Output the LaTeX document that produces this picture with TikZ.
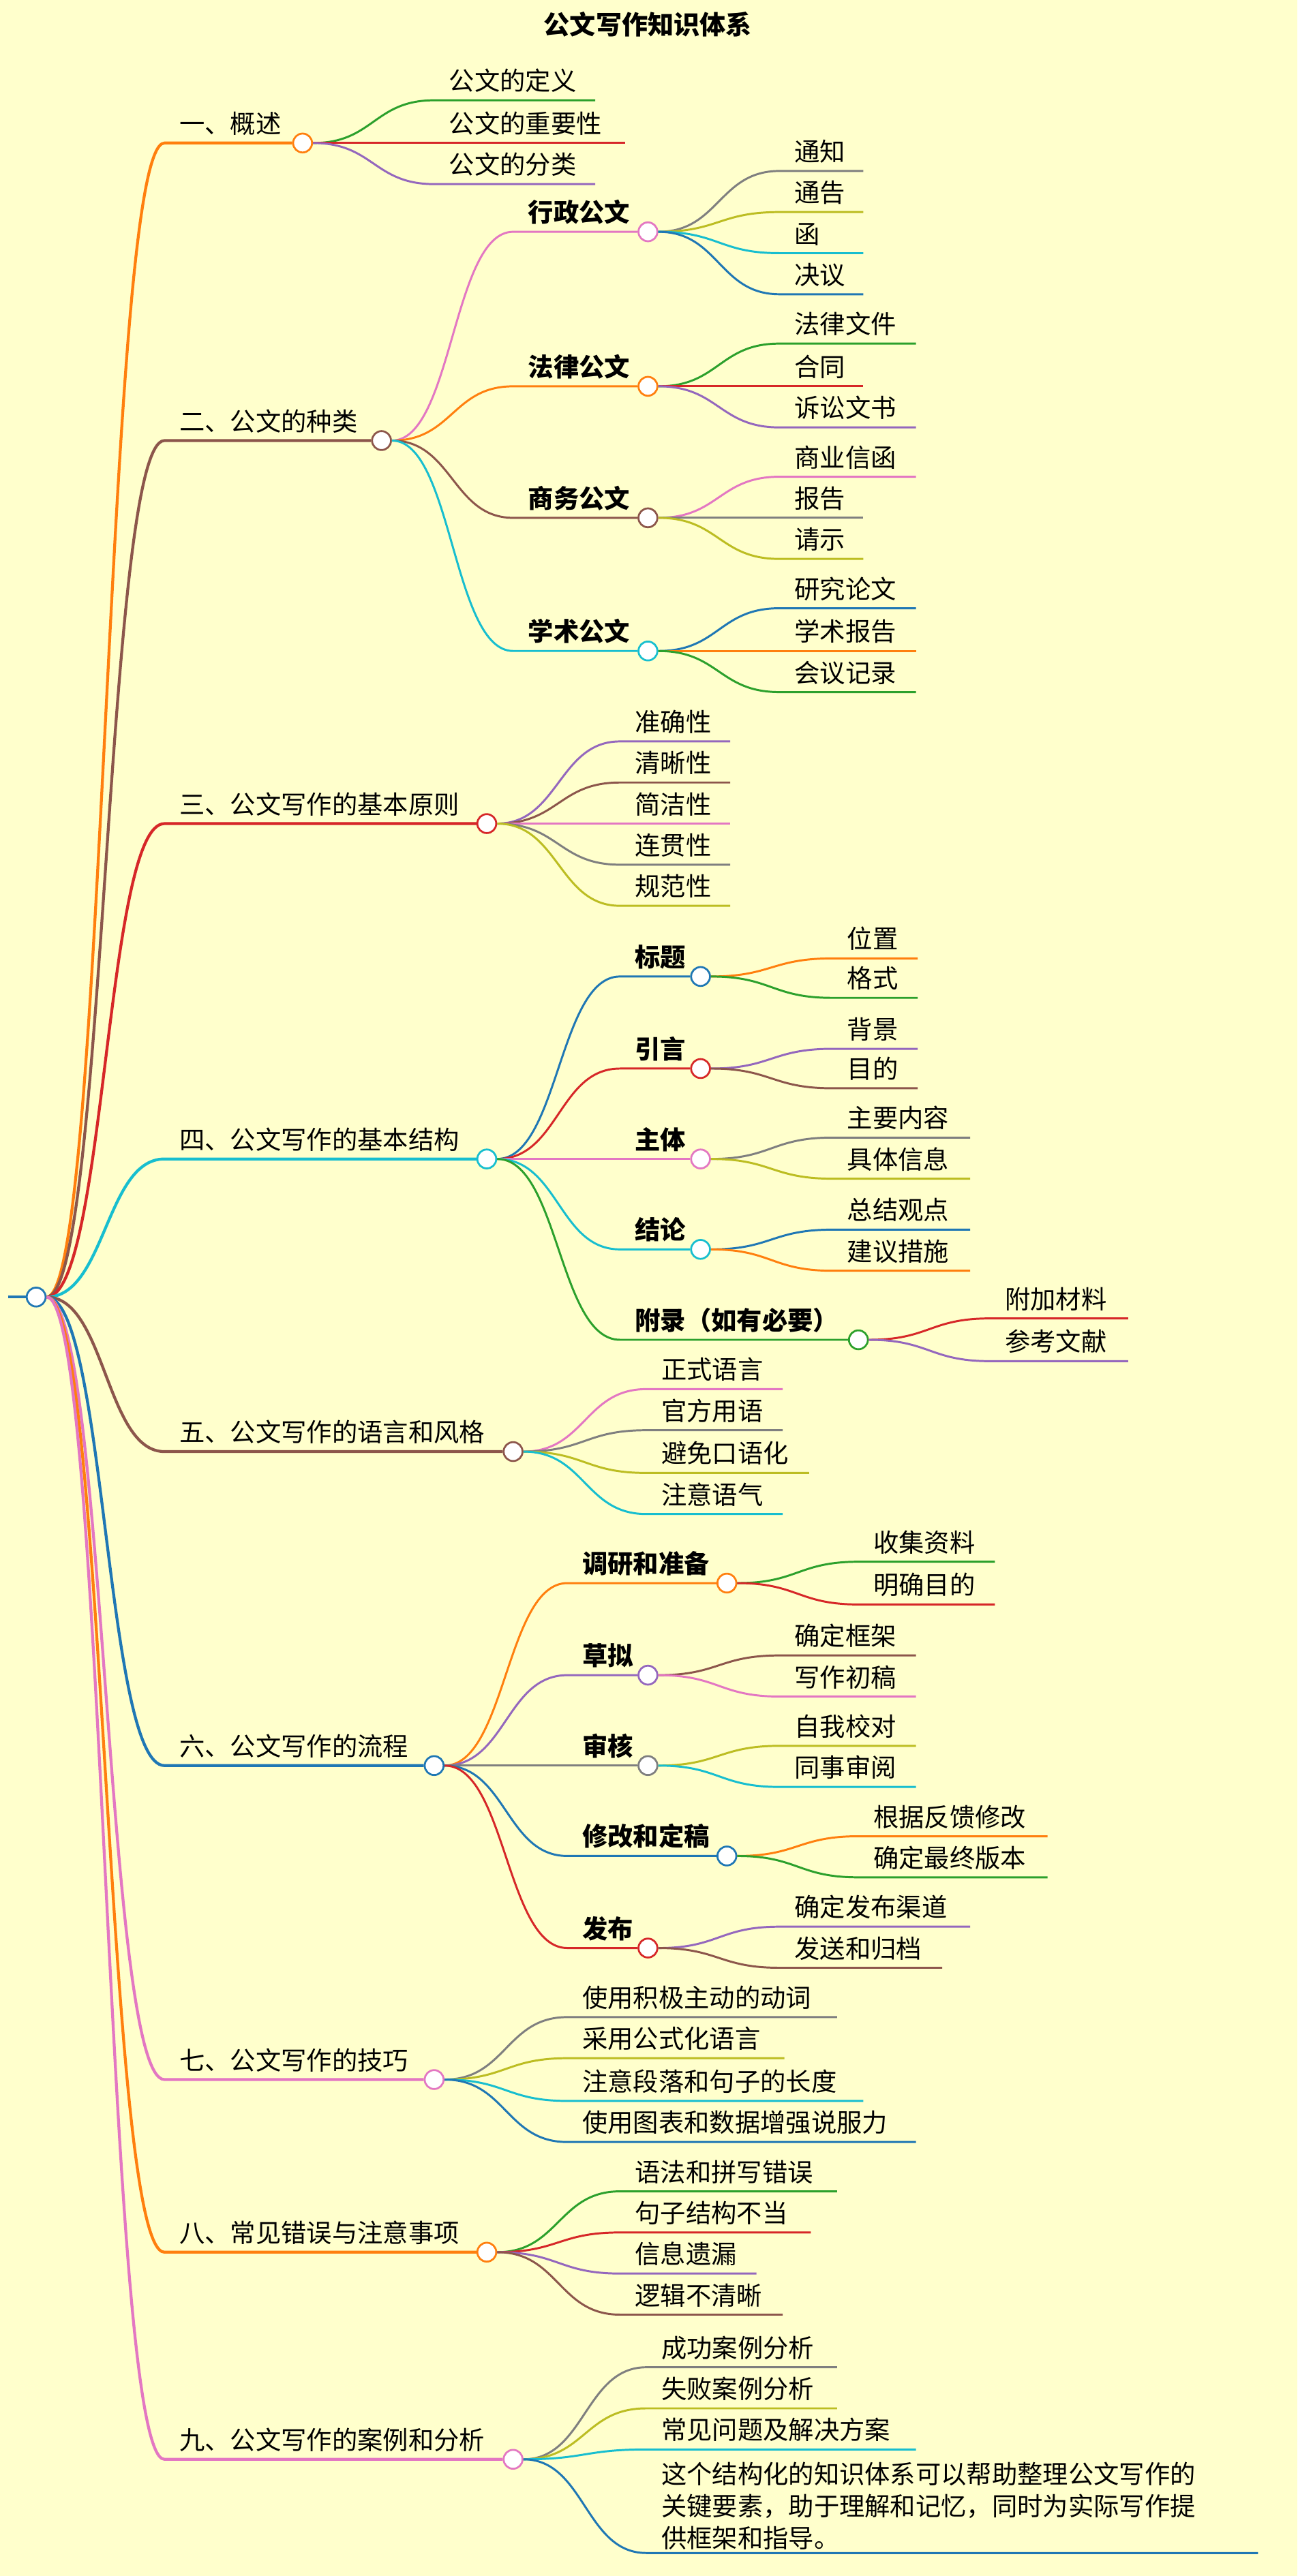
\documentclass[tikz,border=0pt]{standalone}
\usepackage{fontspec}
\setmainfont{Noto Sans CJK SC}
\usetikzlibrary{calc}
\definecolor{cOra}{HTML}{FF7F0E}
\definecolor{cGrn}{HTML}{2CA02C}
\definecolor{cRed}{HTML}{D62728}
\definecolor{cPur}{HTML}{9467BD}
\definecolor{cBro}{HTML}{8C564B}
\definecolor{cPin}{HTML}{E377C2}
\definecolor{cGra}{HTML}{7F7F7F}
\definecolor{cOli}{HTML}{BCBD22}
\definecolor{cCya}{HTML}{17BECF}
\definecolor{cBlu}{HTML}{1F77B4}
\definecolor{bgYel}{HTML}{FFFFCC}
\tikzset{
  lbl/.style={anchor=base west,inner sep=0pt,font=\fontsize{17.6}{20}\selectfont},
  hub/.style={circle,fill=white,line width=1.3pt,minimum size=0.46cm,inner sep=0pt},
  lk/.style={line width=1.4pt},
  lk1/.style={line width=2pt}
}
% curved link from a parent circle to the start of an underline
\newcommand{\link}[3]{%
  \coordinate (#2m) at ($(#1.east)!0.5!(#2s)$);
  \draw[#3] (#1.east) .. controls (#2m |- #1.east) and (#2m |- #2s) .. (#2s)}
% leaf: name, parent, colour, x0, x1, y, text
\newcommand{\leaf}[7]{%
  \coordinate (#1s) at (#4,#6);
  \coordinate (#1e) at (#5,#6);
  \node[lbl] (#1) at ($(#1s)+(9,-6)$) {#7};
  \link{#2}{#1}{#3,lk} -- (#1e);
}
% branch with a hub circle: name, parent, colour, x0, cx, y, text, link style
\newcommand{\branch}[8]{%
  \coordinate (#1s) at (#4,#6);
  \node[lbl] (#1t) at ($(#1s)+(9,-6)$) {#7};
  \node[hub,draw=#3] (#1) at (#5,#6) {};
  \link{#2}{#1}{#3,#8} -- (#1.west);
}
\begin{document}
\begin{tikzpicture}[x=0.04cm,y=-0.04cm]
\useasboundingbox[fill=bgYel] (0,0) rectangle (789,1567);
\node[font=\bfseries\fontsize{18}{21}\selectfont] (title) at (394,15) {公文写作知识体系};
%
\coordinate (rs) at (5,789);
\node[hub,draw=cBlu] (root) at (22,789) {};
\draw[cBlu,lk1] (rs) -- (root.west);
%
\branch{a}{root}{cOra}{100}{184}{87}{一、概述}{lk1}
\leaf{a1}{a}{cGrn}{264}{362}{61}{公文的定义}
\leaf{a2}{a}{cRed}{264}{380}{87}{公文的重要性}
\leaf{a3}{a}{cPur}{264}{362}{112}{公文的分类}
%
\branch{b}{root}{cBro}{100}{232}{268}{二、公文的种类}{lk1}
\branch{b1}{b}{cPin}{312}{394}{141}{\bfseries 行政公文}{lk}
\branch{b2}{b}{cOra}{312}{394}{235}{\bfseries 法律公文}{lk}
\branch{b3}{b}{cBro}{312}{394}{315}{\bfseries 商务公文}{lk}
\branch{b4}{b}{cCya}{312}{394}{396}{\bfseries 学术公文}{lk}
\leaf{b11}{b1}{cGra}{474}{525}{104}{通知}
\leaf{b12}{b1}{cOli}{474}{525}{129}{通告}
\leaf{b13}{b1}{cCya}{474}{525}{154}{函}
\leaf{b14}{b1}{cBlu}{474}{525}{179}{决议}
\leaf{b21}{b2}{cGrn}{474}{557}{209}{法律文件}
\leaf{b22}{b2}{cRed}{474}{525}{235}{合同}
\leaf{b23}{b2}{cPur}{474}{557}{260}{诉讼文书}
\leaf{b31}{b3}{cPin}{474}{557}{290}{商业信函}
\leaf{b32}{b3}{cGra}{474}{525}{315}{报告}
\leaf{b33}{b3}{cOli}{474}{525}{340}{请示}
\leaf{b41}{b4}{cBlu}{474}{557}{370}{研究论文}
\leaf{b42}{b4}{cOra}{474}{557}{396}{学术报告}
\leaf{b43}{b4}{cGrn}{474}{557}{421}{会议记录}
%
\branch{c}{root}{cRed}{100}{296}{501}{三、公文写作的基本原则}{lk1}
\leaf{c1}{c}{cPur}{377}{444}{451}{准确性}
\leaf{c2}{c}{cBro}{377}{444}{476}{清晰性}
\leaf{c3}{c}{cPin}{377}{444}{501}{简洁性}
\leaf{c4}{c}{cGra}{377}{444}{526}{连贯性}
\leaf{c5}{c}{cOli}{377}{444}{551}{规范性}
%
\branch{d}{root}{cCya}{100}{296}{705}{四、公文写作的基本结构}{lk1}
\branch{d1}{d}{cBlu}{377}{426}{594}{\bfseries 标题}{lk}
\branch{d2}{d}{cRed}{377}{426}{650}{\bfseries 引言}{lk}
\branch{d3}{d}{cPin}{377}{426}{705}{\bfseries 主体}{lk}
\branch{d4}{d}{cCya}{377}{426}{760}{\bfseries 结论}{lk}
\branch{d5}{d}{cGrn}{377}{522}{815}{\bfseries 附录（如有必要）}{lk}
\leaf{d11}{d1}{cOra}{506}{558}{583}{位置}
\leaf{d12}{d1}{cGrn}{506}{558}{607}{格式}
\leaf{d21}{d2}{cPur}{506}{558}{638}{背景}
\leaf{d22}{d2}{cBro}{506}{558}{662}{目的}
\leaf{d31}{d3}{cGra}{506}{590}{692}{主要内容}
\leaf{d32}{d3}{cOli}{506}{590}{717}{具体信息}
\leaf{d41}{d4}{cBlu}{506}{590}{748}{总结观点}
\leaf{d42}{d4}{cOra}{506}{590}{773}{建议措施}
\leaf{d51}{d5}{cRed}{602}{686}{802}{附加材料}
\leaf{d52}{d5}{cPur}{602}{686}{828}{参考文献}
%
\branch{e}{root}{cBro}{100}{312}{883}{五、公文写作的语言和风格}{lk1}
\leaf{e1}{e}{cPin}{393}{476}{845}{正式语言}
\leaf{e2}{e}{cGra}{393}{476}{870}{官方用语}
\leaf{e3}{e}{cOli}{393}{492}{896}{避免口语化}
\leaf{e4}{e}{cCya}{393}{476}{921}{注意语气}
%
\branch{f}{root}{cBlu}{100}{264}{1074}{六、公文写作的流程}{lk1}
\branch{f1}{f}{cOra}{345}{442}{963}{\bfseries 调研和准备}{lk}
\branch{f2}{f}{cPur}{345}{394}{1019}{\bfseries 草拟}{lk}
\branch{f3}{f}{cGra}{345}{394}{1074}{\bfseries 审核}{lk}
\branch{f4}{f}{cBlu}{345}{442}{1129}{\bfseries 修改和定稿}{lk}
\branch{f5}{f}{cRed}{345}{394}{1185}{\bfseries 发布}{lk}
\leaf{f11}{f1}{cGrn}{522}{605}{950}{收集资料}
\leaf{f12}{f1}{cRed}{522}{605}{976}{明确目的}
\leaf{f21}{f2}{cBro}{474}{557}{1007}{确定框架}
\leaf{f22}{f2}{cPin}{474}{557}{1032}{写作初稿}
\leaf{f31}{f3}{cOli}{474}{557}{1062}{自我校对}
\leaf{f32}{f3}{cCya}{474}{557}{1087}{同事审阅}
\leaf{f41}{f4}{cOra}{522}{637}{1117}{根据反馈修改}
\leaf{f42}{f4}{cGrn}{522}{637}{1142}{确定最终版本}
\leaf{f51}{f5}{cPur}{474}{590}{1172}{确定发布渠道}
\leaf{f52}{f5}{cBro}{474}{573}{1197}{发送和归档}
%
\branch{g}{root}{cPin}{100}{264}{1265}{七、公文写作的技巧}{lk1}
\leaf{g1}{g}{cGra}{345}{509}{1227}{使用积极主动的动词}
\leaf{g2}{g}{cOli}{345}{477}{1252}{采用公式化语言}
\leaf{g3}{g}{cCya}{345}{525}{1278}{注意段落和句子的长度}
\leaf{g4}{g}{cBlu}{345}{557}{1303}{使用图表和数据增强说服力}
%
\branch{h}{root}{cOra}{100}{296}{1370}{八、常见错误与注意事项}{lk1}
\leaf{h1}{h}{cGrn}{377}{509}{1333}{语法和拼写错误}
\leaf{h2}{h}{cRed}{377}{493}{1358}{句子结构不当}
\leaf{h3}{h}{cPur}{377}{460}{1383}{信息遗漏}
\leaf{h4}{h}{cBro}{377}{476}{1408}{逻辑不清晰}
%
\branch{k}{root}{cPin}{100}{312}{1496}{九、公文写作的案例和分析}{lk1}
\leaf{k1}{k}{cGra}{393}{509}{1440}{成功案例分析}
\leaf{k2}{k}{cOli}{393}{509}{1465}{失败案例分析}
\leaf{k3}{k}{cCya}{393}{557}{1490}{常见问题及解决方案}
\coordinate (k4s) at (393,1553);
\coordinate (k4e) at (765,1553);
\node[lbl,anchor=south west,align=left,font=\fontsize{17.6}{22}\selectfont] (k4) at ($(k4s)+(9,-2)$)
  {这个结构化的知识体系可以帮助整理公文写作的\\关键要素，助于理解和记忆，同时为实际写作提\\供框架和指导。};
\link{k}{k4}{cBlu,lk} -- (k4e);
\end{tikzpicture}
\end{document}
